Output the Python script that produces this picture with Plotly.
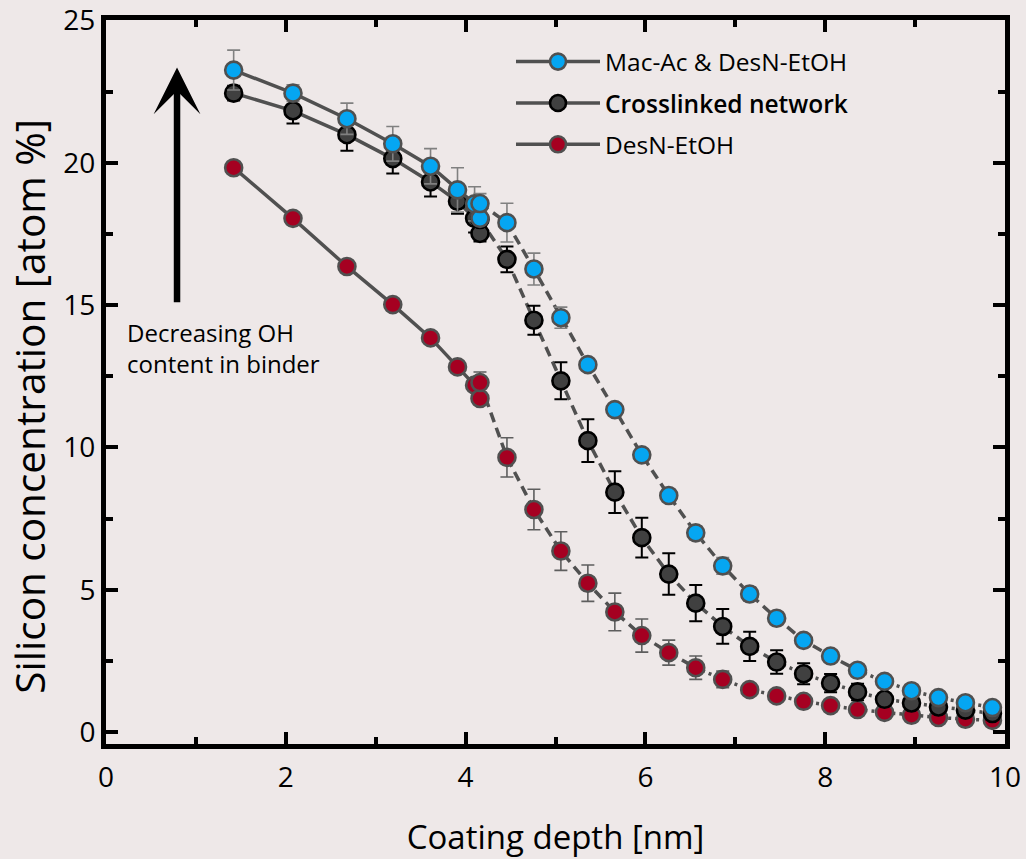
import plotly.graph_objects as go

# ---------------- data ----------------
depth_seg1 = [1.42, 2.08, 2.68, 3.19, 3.61, 3.91, 4.10, 4.16]
depth_seg2 = [4.16, 4.46, 4.76, 5.06, 5.36, 5.66, 5.96, 6.26, 6.56, 6.86,
              7.16, 7.46, 7.76, 8.06, 8.36, 8.66, 8.96, 9.26, 9.56, 9.86]

blue_seg1 = [23.26, 22.45, 21.55, 20.67, 19.88, 19.05, 18.56, 18.05]
blue_err1 = [0.70, 0.29, 0.55, 0.61, 0.62, 0.78, 0.60, 0.20]
blue_seg2 = [18.57, 17.90, 16.27, 14.56, 12.91, 11.33, 9.74, 8.31, 7.00, 5.84,
             4.85, 4.00, 3.22, 2.67, 2.17, 1.78, 1.45, 1.21, 1.03, 0.86]
blue_err2 = [0.35, 0.68, 0.56, 0.37, 0.20, 0.15, 0.15, 0.20, 0.25, 0.29,
             0.25, 0.20, 0.20, 0.20, 0.20, 0.15, 0.15, 0.15, 0.15, 0.15]

black_seg1 = [22.45, 21.83, 20.99, 20.15, 19.33, 18.65, 18.05, 17.52]
black_err1 = [0.26, 0.45, 0.56, 0.52, 0.51, 0.44, 0.50, 0.28]
black_seg2 = [18.01, 16.61, 14.47, 12.34, 10.24, 8.43, 6.83, 5.55, 4.53, 3.71,
              3.01, 2.46, 2.05, 1.72, 1.41, 1.15, 1.02, 0.88, 0.77, 0.65]
black_err2 = [0.30, 0.45, 0.51, 0.65, 0.75, 0.73, 0.70, 0.73, 0.64, 0.61,
              0.51, 0.41, 0.37, 0.32, 0.29, 0.20, 0.15, 0.15, 0.15, 0.15]

red_seg1 = [19.83, 18.05, 16.36, 15.02, 13.85, 12.83, 12.19, 11.72]
red_err1 = [0.15, 0.18, 0.15, 0.15, 0.15, 0.12, 0.15, 0.15]
red_seg2 = [12.28, 9.65, 7.82, 6.36, 5.23, 4.22, 3.39, 2.79, 2.26, 1.85,
            1.49, 1.27, 1.08, 0.93, 0.79, 0.69, 0.59, 0.51, 0.45, 0.41]
red_err2 = [0.37, 0.69, 0.71, 0.68, 0.64, 0.66, 0.58, 0.44, 0.41, 0.29,
            0.20, 0.15, 0.15, 0.15, 0.15, 0.15, 0.15, 0.15, 0.15, 0.15]

series_names = ["Mac-Ac & DesN-EtOH", "Crosslinked network", "DesN-EtOH"]
x_title = "Coating depth [nm]"
y_title = "Silicon concentration [atom %]"

# ---------------- styles ----------------
BG = "#EEE8E8"
LINE = "#505050"
FONT = "Open Sans"

series = [
    # drawn bottom -> top
    dict(name=series_names[2], label=series_names[2], s1=red_seg1, e1=red_err1, s2=red_seg2, e2=red_err2,
         dot_from=8, fill="#A50021", edge="#505050", err="#5E5E5E", errw=1.6, rank=3),
    dict(name=series_names[1], label='<span style="font-weight:600">' + series_names[1] + "</span>",
         s1=black_seg1, e1=black_err1, s2=black_seg2, e2=black_err2,
         dot_from=11, fill="#404040", edge="#000000", err="#000000", errw=2.0, rank=2),
    dict(name=series_names[0], label=series_names[0], s1=blue_seg1, e1=blue_err1, s2=blue_seg2, e2=blue_err2,
         dot_from=14, fill="#05A6F2", edge="#505050", err="#808080", errw=1.6, rank=1),
]

fig = go.Figure()

for s in series:
    k = s["dot_from"]
    fig.add_trace(go.Scatter(x=depth_seg1, y=s["s1"], mode="lines",
                             line=dict(color=LINE, width=3.5), showlegend=False, hoverinfo="skip"))
    fig.add_trace(go.Scatter(x=depth_seg2[:k + 1], y=s["s2"][:k + 1], mode="lines",
                             line=dict(color=LINE, width=3.5, dash="10px,6px"),
                             showlegend=False, hoverinfo="skip"))
    fig.add_trace(go.Scatter(x=depth_seg2[k:], y=s["s2"][k:], mode="lines",
                             line=dict(color=LINE, width=3.5, dash="3px,4px"),
                             showlegend=False, hoverinfo="skip"))
    fig.add_trace(go.Scatter(
        x=depth_seg1 + depth_seg2, y=s["s1"] + s["s2"], mode="markers",
        marker=dict(size=17, color=s["fill"], line=dict(color=s["edge"], width=2.6)),
        error_y=dict(type="data", array=s["e1"] + s["e2"], visible=True,
                     color=s["err"], thickness=s["errw"], width=6.5),
        showlegend=False, name=s["name"]))

# legend entries (blue, black, red)
for s in sorted(series, key=lambda d: d["rank"]):
    fig.add_trace(go.Scatter(
        x=[None], y=[None], mode="lines+markers", name=s["label"],
        legendrank=s["rank"], legendgroup=s["name"],
        line=dict(color=LINE, width=3.5),
        marker=dict(size=17, color=s["fill"], line=dict(color=s["edge"], width=2.6))))

axis_common = dict(showline=True, linecolor="black", linewidth=5, mirror="allticks",
                   ticks="inside", tickcolor="black", tickwidth=4, ticklen=12,
                   showgrid=False, zeroline=False, automargin=False,
                   ticklabeloverflow="allow")

fig.update_xaxes(range=[0, 10], dtick=2, tick0=0,
                 minor=dict(dtick=1, ticks="inside", ticklen=7, tickwidth=4, tickcolor="black"),
                 tickfont=dict(family=FONT, size=28, color="black"),
                 title=dict(text=x_title, font=dict(family=FONT, size=33, color="black"),
                            standoff=35),
                 ticklabelstandoff=4, **axis_common)
fig.update_yaxes(range=[-0.42, 25.02], dtick=5, tick0=0,
                 minor=dict(dtick=2.5, ticks="inside", ticklen=7, tickwidth=4, tickcolor="black"),
                 tickfont=dict(family=FONT, size=28, color="black"),
                 ticklabelstandoff=0, **axis_common)

# y-axis title placed as rotated text
fig.add_annotation(x=-0.0845, y=0.466, xref="paper", yref="paper", xanchor="center", yanchor="middle",
                   text=y_title, textangle=-90, showarrow=False,
                   font=dict(family=FONT, size=40.5, color="black"))

# arrow + annotation
fig.add_annotation(x=0.79, y=23.35, ax=0.79, ay=15.05, xref="x", yref="y", axref="x", ayref="y",
                   text="", showarrow=True, arrowhead=3, arrowsize=1.2, arrowwidth=6.5,
                   arrowcolor="black")
fig.add_annotation(x=0.21, y=13.5, xref="x", yref="y", xanchor="left", yanchor="middle",
                   text="Decreasing OH<br>content in binder", showarrow=False, align="left",
                   font=dict(family=FONT, size=24, color="black"))

fig.update_layout(
    width=1026, height=859,
    paper_bgcolor=BG, plot_bgcolor=BG,
    margin=dict(l=106, r=21, t=20, b=115),
    font=dict(family=FONT, color="black"),
    legend=dict(x=0.4505, y=0.9735, xanchor="left", yanchor="top",
                bgcolor="rgba(0,0,0,0)", font=dict(family=FONT, size=24.5, color="black"),
                itemwidth=84, tracegroupgap=6.5, traceorder="grouped"),
)

fig.write_html("out.html")
